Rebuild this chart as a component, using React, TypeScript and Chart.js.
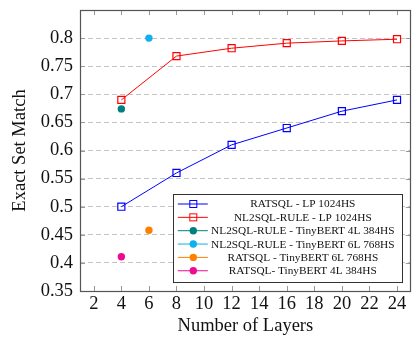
import React, { useEffect, useRef } from 'react';
import { Chart, registerables } from 'chart.js';

Chart.register(...registerables);

// ---- data ----
const LAYERS = [4, 8, 12, 16, 20, 24];
const RATSQL_LP = [0.5, 0.56, 0.61, 0.64, 0.67, 0.69];
const NL2SQL_LP = [0.69, 0.768, 0.782, 0.791, 0.795, 0.798];
const SINGLE_LAYERS = [4, 6, 6, 4];
const SINGLE_SCORES = [0.674, 0.8, 0.458, 0.411];
const SERIES_LABELS = [
  'RATSQL - LP 1024HS',
  'NL2SQL-RULE - LP 1024HS',
  'NL2SQL-RULE - TinyBERT 4L 384HS',
  'NL2SQL-RULE - TinyBERT 6L 768HS',
  'RATSQL - TinyBERT 6L 768HS',
  'RATSQL- TinyBERT 4L 384HS',
];
const SERIES_COLORS = ['#0000ff', '#ff0000', '#007f7f', '#0fb0ee', '#ff8000', '#ec0c8c'];
const X_TICKS = [2, 4, 6, 8, 10, 12, 14, 16, 18, 20, 22, 24];
const Y_TICKS = [0.35, 0.4, 0.45, 0.5, 0.55, 0.6, 0.65, 0.7, 0.75, 0.8];
const X_TITLE = 'Number of Layers';
const Y_TITLE = 'Exact Set Match';

const FONT = '"Liberation Serif", "DejaVu Serif", serif';
const BIG = 18.5;

const framePlugin = {
  id: 'frame',
  afterDatasetsDraw(chart: any) {
    const { ctx, chartArea: a, scales } = chart;
    ctx.save();
    ctx.strokeStyle = '#999';
    ctx.lineWidth = 1;
    const tl = 5;
    ctx.beginPath();
    for (const v of X_TICKS) {
      const px = Math.round(scales.x.getPixelForValue(v)) + 0.5;
      ctx.moveTo(px, a.top);
      ctx.lineTo(px, a.top + tl);
      ctx.moveTo(px, a.bottom);
      ctx.lineTo(px, a.bottom - tl);
    }
    for (const v of Y_TICKS) {
      const py = Math.round(scales.y.getPixelForValue(v)) + 0.5;
      ctx.moveTo(a.left, py);
      ctx.lineTo(a.left + tl, py);
      ctx.moveTo(a.right, py);
      ctx.lineTo(a.right - tl, py);
    }
    ctx.stroke();
    ctx.strokeStyle = '#555';
    ctx.lineWidth = 1.2;
    ctx.strokeRect(Math.round(a.left) + 0.5, Math.round(a.top) + 0.5, Math.round(a.right - a.left) - 1, Math.round(a.bottom - a.top));
    ctx.restore();
  },
};

const legendPlugin = {
  id: 'insideLegend',
  afterDraw(chart: any) {
    const { ctx, chartArea: a } = chart;
    const ds = chart.data.datasets;
    const w = 229;
    const h = 88;
    const right = a.right - 9;
    const bottom = a.bottom - 9;
    const left = right - w;
    const top = bottom - h;
    ctx.save();
    ctx.fillStyle = '#fff';
    ctx.fillRect(left, top, w, h);
    ctx.strokeStyle = '#333';
    ctx.lineWidth = 1;
    ctx.strokeRect(Math.round(left) + 0.5, Math.round(top) + 0.5, w, h);
    const rowH = 13.35;
    ctx.font = '11.3px ' + FONT;
    ctx.textAlign = 'center';
    ctx.textBaseline = 'middle';
    ds.forEach((d: any, i: number) => {
      const cy = top + 10 + i * rowH;
      const lx0 = left + 5;
      const lx1 = left + 35;
      const mx = left + 20.5;
      ctx.strokeStyle = d.borderColor;
      ctx.lineWidth = 1;
      ctx.beginPath();
      ctx.moveTo(lx0, cy);
      ctx.lineTo(lx1, cy);
      ctx.stroke();
      if (d.pointStyle === 'rect') {
        ctx.strokeRect(mx - 3.5, cy - 3.5, 7, 7);
      } else {
        ctx.fillStyle = d.pointBackgroundColor;
        ctx.beginPath();
        ctx.arc(mx, cy, 3.7, 0, Math.PI * 2);
        ctx.fill();
      }
      ctx.fillStyle = '#111';
      ctx.fillText(d.label, left + 130, cy + 0.5);
    });
    ctx.restore();
  },
};

export default function App() {
  const ref = useRef<HTMLCanvasElement | null>(null);
  useEffect(() => {
    if (!ref.current) return;
    const lineSet = (i: number, ys: number[]) => ({
      label: SERIES_LABELS[i],
      data: LAYERS.map((x, k) => ({ x, y: ys[k] })),
      borderColor: SERIES_COLORS[i],
      backgroundColor: 'rgba(0,0,0,0)',
      pointBackgroundColor: 'rgba(0,0,0,0)',
      pointBorderColor: SERIES_COLORS[i],
      borderWidth: 1,
      pointBorderWidth: 1.2,
      pointStyle: 'rect',
      pointRadius: 5,
      showLine: true,
    });
    const dotSet = (i: number, k: number) => ({
      label: SERIES_LABELS[i],
      data: [{ x: SINGLE_LAYERS[k], y: SINGLE_SCORES[k] }],
      borderColor: SERIES_COLORS[i],
      backgroundColor: SERIES_COLORS[i],
      pointBackgroundColor: SERIES_COLORS[i],
      pointBorderColor: SERIES_COLORS[i],
      pointStyle: 'circle',
      pointRadius: 3.7,
      pointBorderWidth: 0,
      showLine: false,
    });
    const chart = new Chart(ref.current, {
      type: 'line',
      data: {
        datasets: [
          lineSet(0, RATSQL_LP),
          lineSet(1, NL2SQL_LP),
          dotSet(2, 0),
          dotSet(3, 1),
          dotSet(4, 2),
          dotSet(5, 3),
        ] as any,
      },
      options: {
        responsive: false,
        animation: false,
        layout: { padding: { top: 10, right: 1, left: 0, bottom: 0 } },
        plugins: { legend: { display: false }, tooltip: { enabled: false } },
        font: { family: FONT },
        scales: {
          x: {
            type: 'linear',
            min: 1,
            max: 25,
            afterBuildTicks: (s: any) => {
              s.ticks = X_TICKS.map((v) => ({ value: v }));
            },
            afterFit: (s: any) => {
              s.height = 47;
              s.paddingLeft = 0;
              s.paddingRight = 0;
            },
            grid: { display: false, drawTicks: false },
            border: { display: false },
            ticks: {
              padding: 2,
              color: '#111',
              font: { family: FONT, size: BIG },
              maxRotation: 0,
              autoSkip: false,
            },
            title: {
              display: true,
              text: X_TITLE,
              color: '#111',
              font: { family: FONT, size: BIG },
              padding: { top: 0, bottom: 1 },
            },
          },
          y: {
            type: 'linear',
            min: 0.35,
            max: 0.85,
            afterBuildTicks: (s: any) => {
              s.ticks = Y_TICKS.map((v) => ({ value: v }));
            },
            afterFit: (s: any) => {
              s.width = 80;
              s.paddingTop = 0;
              s.paddingBottom = 0;
            },
            grid: {
              drawTicks: false,
              color: (c: any) => (c.tick && c.tick.value <= 0.351 ? 'rgba(0,0,0,0)' : '#c4c4c4'),
              lineWidth: 1,
            },
            border: { display: false, dash: [5, 3] },
            ticks: {
              padding: 7,
              color: '#111',
              font: { family: FONT, size: BIG },
              autoSkip: false,
              callback: (v: any) => String(Math.round(Number(v) * 100) / 100),
            },
            title: {
              display: true,
              text: Y_TITLE,
              color: '#111',
              font: { family: FONT, size: BIG },
              padding: { top: 9, bottom: 0 },
            },
          },
        },
      } as any,
      plugins: [framePlugin, legendPlugin],
    });
    return () => chart.destroy();
  }, []);
  return (
    <div style={{ position: 'fixed', left: 0, top: 0, width: 417, height: 338, background: '#fff' }}>
      <canvas ref={ref} width={417} height={338} style={{ display: 'block' }} />
    </div>
  );
}
